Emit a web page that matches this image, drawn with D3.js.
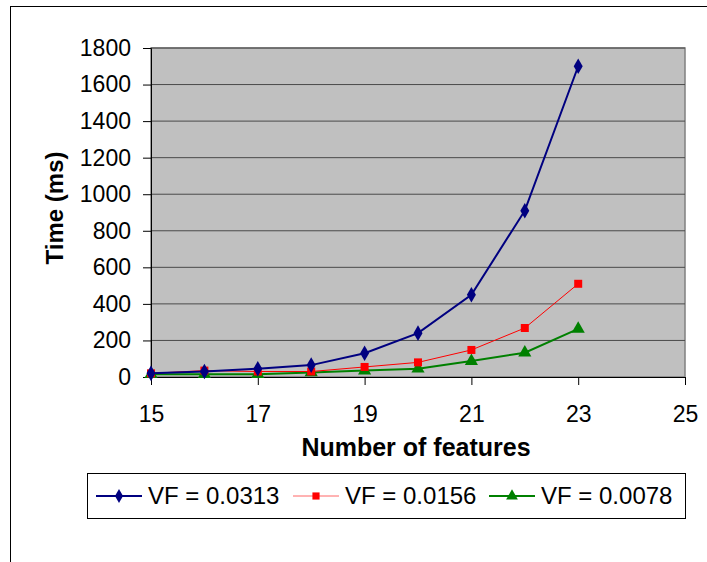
<!DOCTYPE html>
<html>
<head>
<meta charset="utf-8">
<script src="https://cdn.jsdelivr.net/npm/d3@7"></script>
<style>
  body { margin: 0; background: #fff; }
  text { font-family: "Liberation Sans", Arial, sans-serif; fill: #000; }
</style>
</head>
<body>
<div id="chart"></div>
<script>
// data
var features = [15, 16, 17, 18, 19, 20, 21, 22, 23];
var vf0313 = [20, 30, 45, 65, 130, 240, 450, 910, 1700];
var vf0156 = [20, 35, 30, 30, 55, 80, 148, 268, 510];
var vf0078 = [15, 15, 15, 25, 35, 45, 87, 133, 263];
var seriesNames = ["VF = 0.0313", "VF = 0.0156", "VF = 0.0078"];
var xTicks = [15, 17, 19, 21, 23, 25];
var yTicks = [0, 200, 400, 600, 800, 1000, 1200, 1400, 1600, 1800];

var W = 707, H = 562;
var plot = {left: 151, top: 48, right: 685, bottom: 377};

var svg = d3.select("#chart").append("svg")
  .attr("width", W).attr("height", H);

// outer chart border
svg.append("rect")
  .attr("x", 10.5).attr("y", 6.5)
  .attr("width", 720).attr("height", 600)
  .attr("fill", "#fff").attr("stroke", "#000").attr("stroke-width", 1);

var x = d3.scaleLinear().domain([15, 25]).range([plot.left, plot.right]);
var y = d3.scaleLinear().domain([0, 1800]).range([plot.bottom, plot.top]);

// plot area
svg.append("rect")
  .attr("x", plot.left).attr("y", plot.top)
  .attr("width", plot.right - plot.left).attr("height", plot.bottom - plot.top)
  .attr("fill", "#c0c0c0").attr("stroke", "#808080").attr("stroke-width", 1.5);

// gridlines
svg.append("g")
  .selectAll("line")
  .data(yTicks.filter(function(d) { return d > 0; }))
  .enter().append("line")
    .attr("x1", plot.left).attr("x2", plot.right)
    .attr("y1", function(d) { return y(d); })
    .attr("y2", function(d) { return y(d); })
    .attr("stroke", "#4a4a4a").attr("stroke-width", 1);

// Y axis
var yAxis = svg.append("g")
  .attr("transform", "translate(" + plot.left + ",0)")
  .call(d3.axisLeft(y).tickValues(yTicks).tickSize(8).tickPadding(12).tickFormat(d3.format("d")));
yAxis.select(".domain").attr("stroke", "#000");
yAxis.selectAll(".tick line").attr("stroke", "#000");
yAxis.selectAll("text")
  .style("font-size", "23px")
  .style("font-family", "Liberation Sans, Arial, sans-serif");

// X axis
var xAxis = svg.append("g")
  .attr("transform", "translate(0," + plot.bottom + ")")
  .call(d3.axisBottom(x).tickValues(xTicks).tickSize(8).tickPadding(21).tickFormat(d3.format("d")));
xAxis.select(".domain").attr("stroke", "#000");
xAxis.selectAll(".tick line").attr("stroke", "#000");
xAxis.selectAll("text")
  .style("font-size", "23px")
  .style("font-family", "Liberation Sans, Arial, sans-serif");

// axis titles
svg.append("text")
  .attr("x", 416).attr("y", 456)
  .attr("text-anchor", "middle")
  .style("font-size", "25px").style("font-weight", "bold")
  .text("Number of features");

svg.append("text")
  .attr("transform", "translate(63,208) rotate(-90)")
  .attr("text-anchor", "middle")
  .style("font-size", "24px").style("font-weight", "bold")
  .text("Time (ms)");

var series = [
  {name: seriesNames[0], values: vf0313, color: "#000080", width: 2, shape: d3.symbolDiamond, size: 70},
  {name: seriesNames[1], values: vf0156, color: "#ff0000", width: 1, shape: d3.symbolSquare, size: 64},
  {name: seriesNames[2], values: vf0078, color: "#008000", width: 2, shape: d3.symbolTriangle, size: 75}
];

var line = d3.line()
  .x(function(d, i) { return x(features[i]); })
  .y(function(d) { return y(d); });

// draw back-to-front so blue sits on top like the original
series.slice().reverse().forEach(function(s) {
  svg.append("path")
    .datum(s.values)
    .attr("d", line)
    .attr("fill", "none")
    .attr("stroke", s.color)
    .attr("stroke-width", s.width);
  svg.append("g").selectAll("path")
    .data(s.values)
    .enter().append("path")
      .attr("d", d3.symbol().type(s.shape).size(s.size))
      .attr("transform", function(d, i) { return "translate(" + x(features[i]) + "," + y(d) + ")"; })
      .attr("fill", s.color);
});

// legend
var legend = svg.append("g");
legend.append("rect")
  .attr("x", 87.5).attr("y", 473.5)
  .attr("width", 598).attr("height", 45)
  .attr("fill", "#fff").attr("stroke", "#000").attr("stroke-width", 1);

var legendX = [96, 293, 489];
series.forEach(function(s, i) {
  var lx = legendX[i], ly = 496;
  legend.append("line")
    .attr("x1", lx).attr("x2", lx + 46)
    .attr("y1", ly).attr("y2", ly)
    .attr("stroke", s.color).attr("stroke-width", s.width)
    .attr("stroke-opacity", i === 1 ? 0.6 : 1);
  legend.append("path")
    .attr("d", d3.symbol().type(s.shape).size(s.size * 0.8))
    .attr("transform", "translate(" + (lx + 23) + "," + ly + ")")
    .attr("fill", s.color);
  legend.append("text")
    .attr("x", lx + 52).attr("y", ly + 8)
    .style("font-size", "24px")
    .text(s.name);
});
</script>
</body>
</html>
